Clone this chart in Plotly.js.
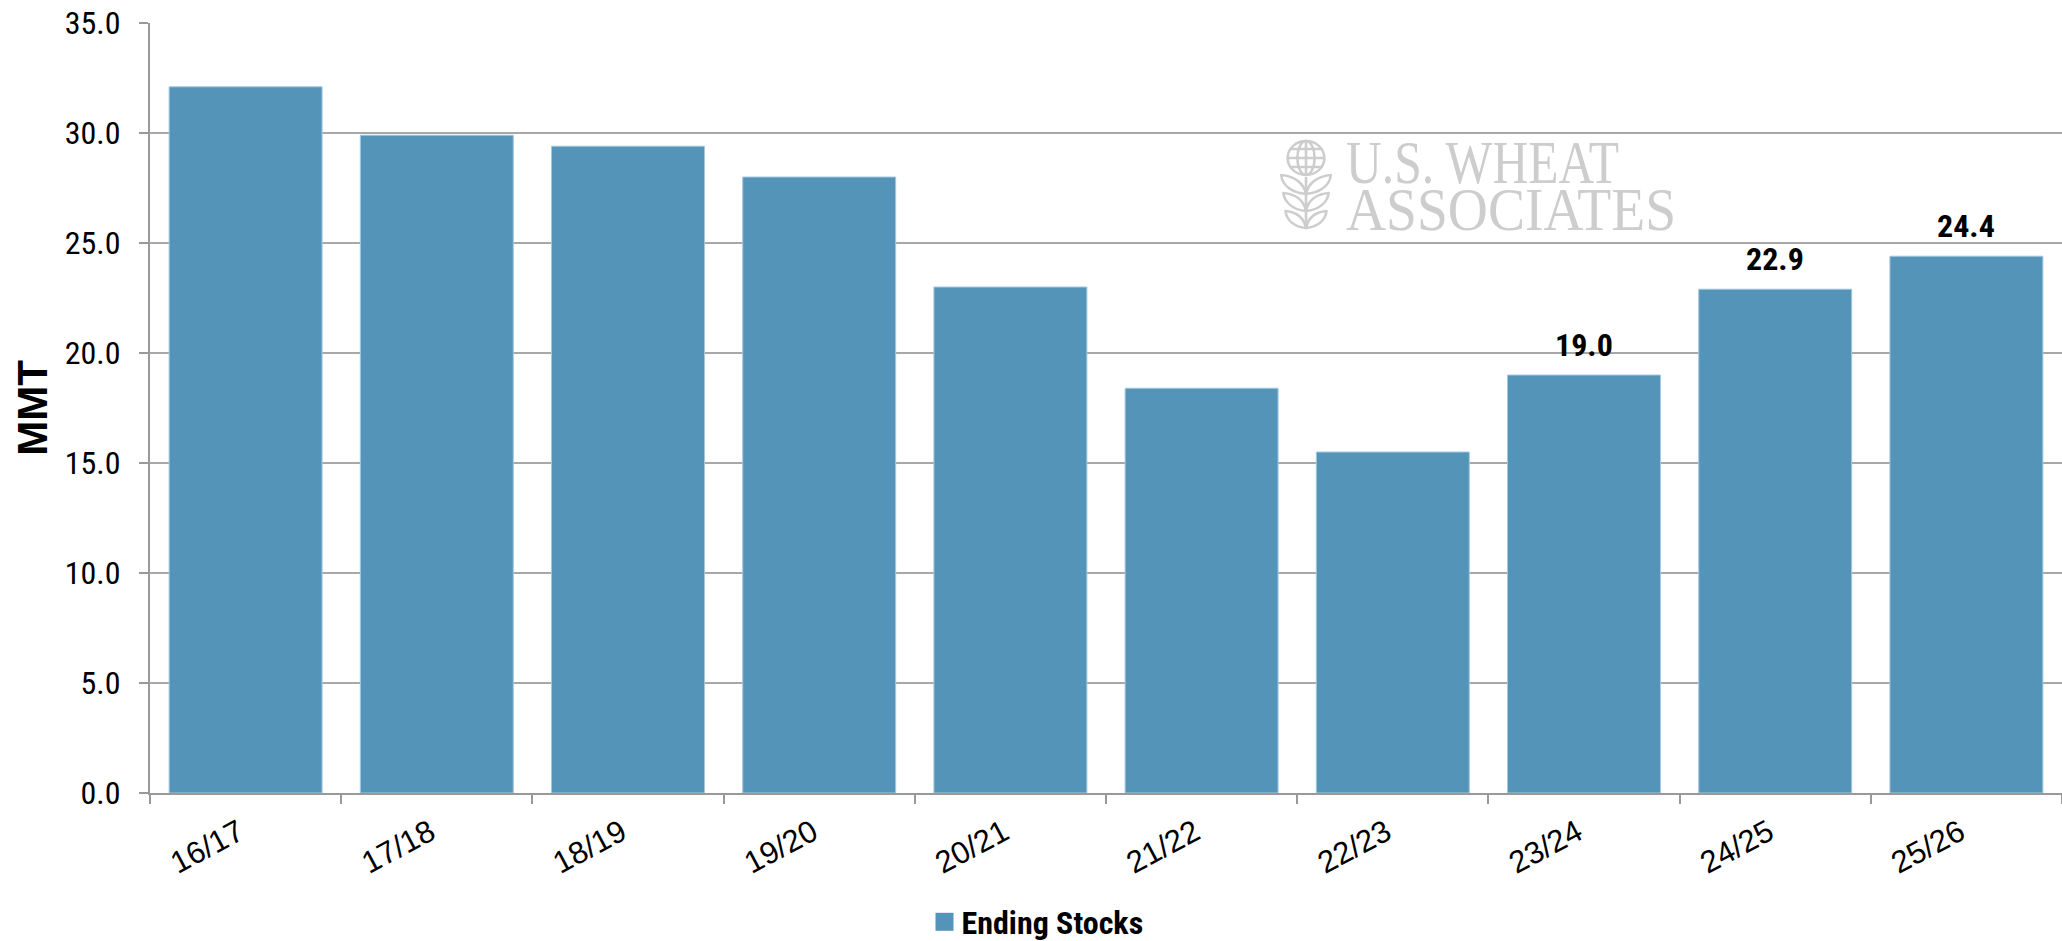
<!DOCTYPE html>
<html><head><meta charset="utf-8">
<script src="https://cdn.plot.ly/plotly-3.0.1.min.js"></script>
<style>html,body{margin:0;padding:0;background:#fff;overflow:hidden}</style>
</head><body><div id="chart" style="width:2062px;height:941px"></div>
<script>
const categories = ['16/17','17/18','18/19','19/20','20/21','21/22','22/23','23/24','24/25','25/26'];
const endingStocks = [32.1, 29.9, 29.4, 28.0, 23.0, 18.4, 15.5, 19.0, 22.9, 24.4];
const labeledCategories = ['23/24','24/25','25/26'];
const yTickValues = [0, 5, 10, 15, 20, 25, 30, 35];
const seriesName = 'Ending Stocks';
const axisTitle = 'MMT';
const watermarkLines = ['U.S. WHEAT', 'ASSOCIATES'];

const condensed = "'Roboto Condensed', 'Liberation Sans Narrow', 'Arial Narrow', 'DejaVu Sans Condensed', Roboto, sans-serif";
const barColor = '#5494b9';
const W = 2062, H = 941, L = 150, T = 23, B = 148;
const plotW = W - L, plotH = H - T - B;
const px = x => (x - L) / plotW;
const py = y => (H - B - y) / plotH;

const barLabels = categories.map((c, i) => labeledCategories.includes(c) ? {
  x: c, y: endingStocks[i], xref: 'x', yref: 'y',
  text: endingStocks[i].toFixed(1), showarrow: false,
  yanchor: 'bottom', yshift: 9,
  font: {family: condensed, size: 32, weight: 'bold', color: '#000'}
} : null).filter(a => a);

const wmSize = 62;
const watermark = {
  x: px(1347), y: py(120), xref: 'paper', yref: 'paper', showarrow: false,
  xanchor: 'left', yanchor: 'top', align: 'left',
  text: watermarkLines.join('<br>'),
  font: {family: "'Liberation Serif', 'DejaVu Serif', serif", size: wmSize, color: '#cdcdcd'}
};

const iconSvg = "<svg xmlns='http://www.w3.org/2000/svg' viewBox='0 0 50 92' preserveAspectRatio='none'>" +
  "<g fill='none' stroke='#cdcdcd' stroke-width='2.4' stroke-linejoin='round'>" +
  "<circle cx='25' cy='19' r='17'/>" +
  "<ellipse cx='25' cy='19' rx='8' ry='17'/>" +
  "<path d='M25,2 V36 M11,10 H39 M8,19 H42 M10,28 H40'/>" +
  "<path d='M25,38 V90'/>" +
  "<path d='M25,55 C13,54 3,47 2,36 C14,37 23,44 25,55 Z'/>" +
  "<path d='M25,55 C37,54 47,47 48,36 C36,37 27,44 25,55 Z'/>" +
  "<path d='M25,72 C14,71 5,64 4,54 C15,55 23,61 25,72 Z'/>" +
  "<path d='M25,72 C36,71 45,64 46,54 C35,55 27,61 25,72 Z'/>" +
  "<path d='M25,89 C15,88 7,82 6,72 C16,73 23,79 25,89 Z'/>" +
  "<path d='M25,89 C35,88 43,82 44,72 C34,73 27,79 25,89 Z'/>" +
  "</g></svg>";

const data = [{
  type: 'bar', x: categories, y: endingStocks, name: seriesName,
  marker: {color: barColor, line: {color: '#a4c8de', width: 1}},
  hoverinfo: 'x+y'
}];

const layout = {
  width: W, height: H,
  margin: {l: L, r: 0, t: T, b: B, pad: 0, autoexpand: false},
  paper_bgcolor: '#fff', plot_bgcolor: '#fff',
  bargap: 0.2,
  showlegend: true,
  legend: {orientation: 'h', x: px(1035), y: py(922), xanchor: 'center', yanchor: 'middle',
    font: {family: condensed, size: 32, weight: 'bold', color: '#000'}},
  xaxis: {type: 'category', tickson: 'boundaries', ticks: 'outside', ticklen: 9,
    tickwidth: 2, tickcolor: '#999', showline: true, linecolor: '#999', linewidth: 2,
    tickangle: -28, showgrid: false, zeroline: false, automargin: false,
    tickfont: {family: "'Liberation Sans', Arial, sans-serif", size: 31, color: '#000'}},
  yaxis: {range: [0, 35], tickvals: yTickValues, tickformat: '.1f',
    ticks: 'outside', ticklen: 9, tickwidth: 2, tickcolor: '#999', ticklabelstandoff: 12,
    showline: true, linecolor: '#999', linewidth: 2, automargin: false,
    showgrid: true, gridcolor: '#a8a8a8', gridwidth: 2, zeroline: false,
    tickfont: {family: condensed, size: 32, color: '#000'},
    title: {text: axisTitle, standoff: 4,
      font: {family: "'Liberation Sans', Arial, sans-serif", size: 42, weight: 'bold', color: '#000'}}},
  annotations: barLabels.concat([watermark]),
  images: [{source: 'data:image/svg+xml,' + encodeURIComponent(iconSvg),
    xref: 'paper', yref: 'paper', x: px(1279), y: py(139), sizex: 54 / plotW, sizey: 92 / plotH,
    xanchor: 'left', yanchor: 'top', sizing: 'stretch', layer: 'above'}]
};

function nudge(el, dx, dy) {
  const t = el.getAttribute('transform') || '';
  el.setAttribute('transform', t + ' translate(' + dx + ',' + dy + ')');
}

function finish(gd) {
  const box = gd.getBoundingClientRect();
  const xa = gd._fullLayout.xaxis, ya = gd._fullLayout.yaxis;
  const axisBottom = ya._offset + ya._length;

  // x tick labels: right end at category centre, just under the ticks
  gd.querySelectorAll('g.xtick').forEach(g => {
    const t = g.querySelector('text'); if (!t) return;
    const cx = xa._offset + xa.d2p(t.textContent);
    const r = t.getBoundingClientRect();
    nudge(g, (cx + 4) - (r.right - box.left), (axisBottom + 20) - (r.top - box.top));
  });

  // watermark: compress the serif lines and tighten line spacing
  const lens = [273, 330];
  gd.querySelectorAll('.annotation-text').forEach(t => {
    if (t.textContent.indexOf(watermarkLines[0]) !== 0) return;
    const lines = t.querySelectorAll('tspan.line');
    lines.forEach((s, i) => {
      s.setAttribute('textLength', lens[i]);
      s.setAttribute('lengthAdjust', 'spacingAndGlyphs');
      if (i > 0) s.setAttribute('dy', 47);
    });
    const r = lines[0].getBoundingClientRect();
    const g = t.closest('g.annotation-text-g') || t.parentNode;
    nudge(g, 1346 - (r.left - box.left), (183 - 0.891 * wmSize) - (r.top - box.top));
  });

  // legend swatch: square of the bar colour
  gd.querySelectorAll('.legend g.traces').forEach(g => {
    const pts = g.querySelector('.legendpoints');
    if (pts) pts.style.display = 'none';
    const rect = document.createElementNS('http://www.w3.org/2000/svg', 'rect');
    rect.setAttribute('x', 14); rect.setAttribute('y', -9);
    rect.setAttribute('width', 18); rect.setAttribute('height', 18);
    rect.setAttribute('fill', barColor);
    g.insertBefore(rect, g.firstChild);
  });
}

Plotly.newPlot('chart', data, layout, {displayModeBar: false, staticPlot: true})
  .then(gd => finish(gd));
</script></body></html>
